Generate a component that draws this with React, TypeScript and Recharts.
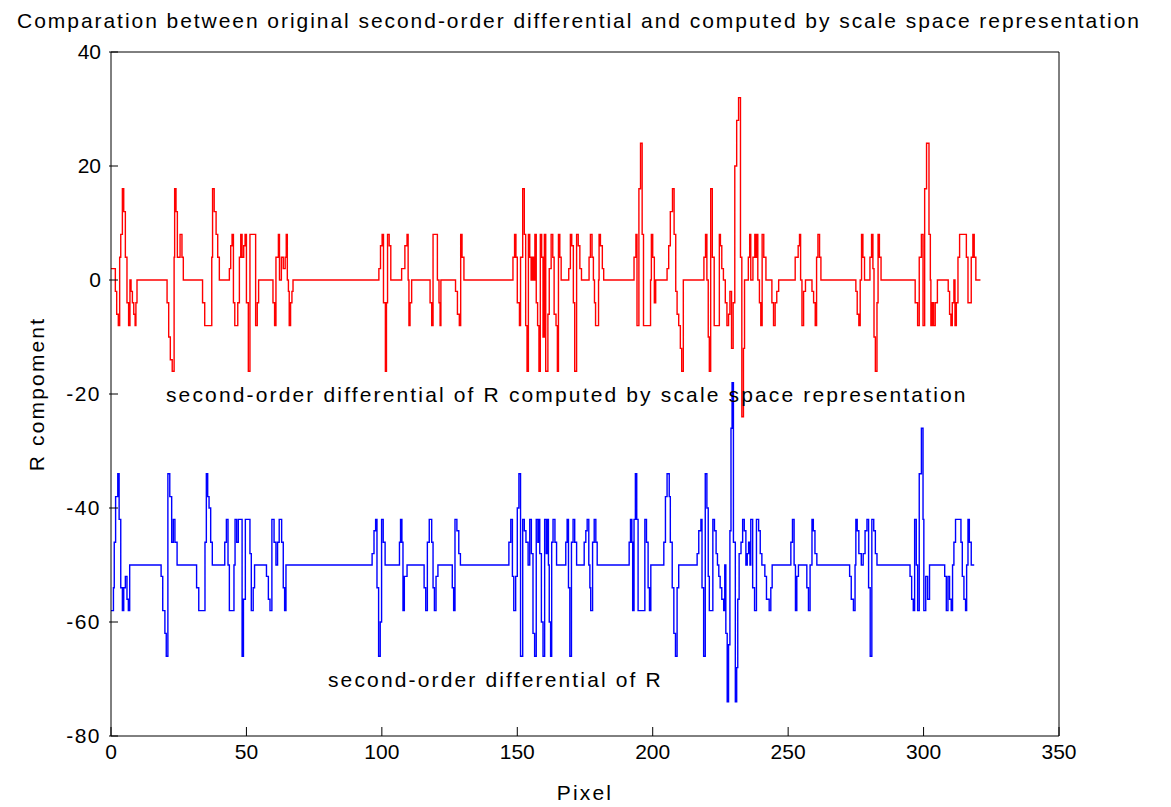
import React from 'react';
import { LineChart, Line, XAxis, YAxis, ReferenceDot, Label } from 'recharts';

const titleText = 'Comparation between original second-order differential and computed by scale space representation';
const xLabelText = 'Pixel';
const yLabelText = 'R compoment';
const redNote = 'second-order differential of R computed by scale space representation';
const blueNote = 'second-order differential of R';
const xTicks = [0, 50, 100, 150, 200, 250, 300, 350];
const yTicks = [-80, -60, -40, -20, 0, 20, 40];
const redNotePos = { x: 20.3, y: -20.2 };
const blueNotePos = { x: 80.1, y: -70.2 };

// breakpoints [pixel, value]; value holds until the next breakpoint
const redSteps: [number, number][] = [
  [0, 2], [1.6, -2], [2.1, -6], [2.7, -8], [3.2, 4], [3.6, 8], [4.2, 16], [4.7, 12], [5.3, 4], [5.9, -4], [6.5, -8], [7.0, 0], [7.4, -2], [7.9, -4], [8.4, -6], [8.9, -8], [9.2, -4], [9.6, 0],
  [20.7, -4], [21.3, -10], [21.9, -14], [22.6, -16], [23.3, 4], [23.5, 16], [24.0, 12], [24.5, 4], [25.5, 8], [26.2, 4], [26.7, 0],
  [33.8, -4], [34.6, -8], [37.2, 4], [37.5, 16], [38.1, 12], [38.8, 8], [39.4, 4], [40.0, 0],
  [43.7, 2], [44.2, 6], [44.7, 8], [45.2, -4], [45.7, -8], [46.8, -4], [47.4, 4], [47.9, 8], [48.4, 4], [49.0, 6], [49.5, 8], [50.0, -4], [50.7, -16], [51.3, 8],
  [53.4, -8], [54.0, -4], [54.5, 0],
  [59.8, -4], [60.4, -8], [60.9, 4], [61.8, 8], [62.2, 0], [62.9, 4], [63.6, 2], [64.3, 4], [64.7, 8], [65.1, 0], [65.5, -2], [65.8, -8], [66.3, -4], [66.8, -2], [67.2, 0],
  [98.9, 2], [99.5, 6], [100.1, 8], [100.6, -4], [101.3, -16], [101.7, -4], [102.1, 8], [102.7, 6], [103.3, 0],
  [107.3, 2], [108.5, 6], [109.3, 8], [109.7, 0], [110.0, -8], [110.4, -4], [111.0, 0],
  [117.8, -4], [118.4, -8], [118.9, 8], [120.5, 0], [121.1, -4], [121.5, -8], [121.8, 0],
  [127.2, -2], [127.9, -6], [128.6, -8], [129.1, 8], [129.6, 4], [130.3, 0],
  [148.4, 4], [149.0, 8], [149.5, 4], [150.0, -4], [150.8, -8], [151.2, 4], [152.0, 16], [152.6, 8], [153.1, -8], [153.6, -16], [154.1, 8], [154.6, 4], [155.1, 0], [155.5, 4], [156.0, 0], [156.5, 8], [157.0, -4], [157.5, -8], [158.0, -16], [158.5, 8], [159.0, 4], [159.5, -10], [160.0, 8],
  [160.5, -16], [161.3, -6], [161.8, 2], [162.5, 8], [163.1, 4], [163.6, -6], [164.3, -8], [164.8, -16], [165.2, 8], [165.7, 4], [166.2, 0],
  [169.0, 2], [169.6, 8], [170.1, 6], [170.7, -4], [171.2, -16], [171.9, 8], [172.5, 6], [173.1, 2], [173.7, 0],
  [176.5, 4], [177.0, 8], [177.6, 4], [178.1, 0], [178.5, -4], [178.9, -8], [180.0, 0], [180.2, 8], [180.7, 6], [181.4, 2], [181.9, 0],
  [193.1, 4], [193.8, 8], [194.2, -8], [194.9, 16], [195.5, 24], [196.1, 8], [196.6, -8], [199.2, 0], [199.5, 8], [200.0, 4], [200.6, -4], [201.1, 0],
  [205.3, 2], [205.9, 6], [206.5, 12], [207.3, 16], [207.9, 8], [208.5, -2], [209.0, -6], [209.6, -8], [210.2, -12], [210.7, -16], [211.3, 0],
  [218.9, 4], [219.5, 8], [220.0, 0], [220.5, -10], [220.9, -16], [221.4, 16], [222.0, 4], [222.7, -8], [224.6, 8], [225.0, 6], [225.5, 2], [226.1, 0], [226.8, -4], [227.4, -8], [228.0, -6], [228.5, -2], [229.1, -12], [229.7, -4], [230.3, 20], [231.0, 28], [231.7, 32], [232.4, 4], [232.9, -24], [233.5, -12], [233.9, 0],
  [235.3, 4], [235.8, 8], [236.2, 0], [237.0, 4], [237.7, 8], [238.2, 4], [238.5, 8], [238.8, 0], [239.4, -4], [239.9, -8], [240.4, 8], [241.0, 4], [241.8, 0],
  [244.0, -4], [244.6, -8], [245.2, -4], [245.8, -2], [246.5, 0],
  [252.6, 4], [253.7, 6], [254.2, 8], [254.6, 0], [255.1, -8], [255.7, -2], [256.4, 0],
  [258.8, -2], [259.4, -4], [260.0, -8], [260.5, 4], [261.0, 8], [261.6, 4], [262.1, 0],
  [275.0, -2], [275.5, -6], [276.1, -8], [276.6, 0], [277.1, 8], [277.6, 4], [278.2, 0],
  [280.2, 4], [280.8, 8], [281.3, 2], [281.7, -10], [282.2, -16], [282.8, -4], [283.2, 8], [283.7, 4], [284.3, 0],
  [296.9, -4], [297.8, -8], [298.4, 4], [299.2, 8], [299.8, -8], [300.4, 16], [301.1, 24], [302.0, 8], [302.5, 0], [302.7, -8], [303.2, -4], [303.7, -8], [304.3, -4], [305.1, 0],
  [309.1, -2], [309.6, -6], [310.1, -8], [310.6, -4], [311.2, 0], [311.6, -8], [312.1, -4], [312.7, 4], [313.3, 8], [315.8, 4], [316.4, -4], [317.2, -4], [317.6, 4], [318.2, 8], [318.7, 4], [319.3, 0], [321.0, 0],
];

const blueSteps: [number, number][] = [
  [0, -58], [0.9, -54], [1.2, -46], [1.7, -38], [2.5, -34], [3.0, -42], [3.6, -54], [4.2, -58], [4.7, -54], [5.3, -52], [5.9, -56], [6.4, -58], [6.9, -50],
  [18.5, -52], [19.1, -58], [19.9, -62], [20.4, -66], [21.0, -34], [21.7, -38], [22.4, -46], [23.0, -42], [23.6, -46], [24.4, -50],
  [31.6, -54], [32.4, -58], [34.7, -46], [35.2, -34], [35.7, -38], [36.2, -40], [36.8, -46], [37.4, -50],
  [42.0, -46], [42.6, -42], [43.2, -50], [43.7, -58], [45.4, -50], [45.8, -42], [46.4, -46], [47.0, -42], [48.4, -66], [48.9, -56], [49.6, -42], [51.3, -48], [51.8, -58], [52.5, -54], [53.0, -50],
  [57.4, -52], [58.1, -56], [58.7, -58], [59.4, -42], [60.2, -46], [60.9, -50], [61.5, -46], [62.1, -42], [63.0, -46], [63.6, -54], [64.1, -58], [64.6, -50],
  [96.4, -48], [97.1, -44], [97.7, -42], [98.2, -54], [98.8, -66], [99.4, -60], [99.9, -42], [100.5, -46], [101.2, -50],
  [106.5, -46], [106.9, -42], [107.4, -46], [107.8, -58], [108.3, -52], [109.3, -50],
  [115.6, -54], [116.2, -58], [116.8, -46], [117.5, -42], [118.4, -46], [118.9, -54], [119.4, -58], [120.0, -52], [120.7, -50],
  [126.0, -54], [126.5, -58], [127.0, -42], [127.7, -44], [128.4, -48], [129.0, -50],
  [146.9, -46], [147.6, -42], [148.2, -52], [148.7, -58], [149.4, -52], [150.0, -40], [150.6, -34], [151.2, -66], [152.0, -42], [152.6, -44], [153.2, -46], [154.0, -50], [154.6, -42], [155.2, -48], [155.8, -62], [156.4, -66], [157.0, -42], [157.6, -46], [158.0, -42], [158.3, -48], [158.9, -60], [159.5, -66], [160.1, -42], [160.7, -48],
  [161.1, -42], [161.5, -50], [161.8, -60], [162.3, -66], [162.7, -46], [163.2, -42], [163.9, -46], [164.5, -50],
  [167.9, -46], [168.4, -42], [168.9, -54], [169.4, -66], [170.0, -46], [170.6, -42], [171.2, -46], [171.9, -50],
  [174.7, -46], [175.3, -44], [175.8, -42], [176.4, -50], [176.8, -54], [177.1, -58], [177.8, -46], [178.4, -42], [179.0, -46], [179.5, -50],
  [191.3, -46], [191.8, -42], [192.3, -46], [192.6, -58], [193.1, -42], [193.6, -34], [194.1, -42], [194.6, -58], [197.1, -42], [197.7, -46], [198.3, -54], [198.8, -58], [199.3, -50],
  [204.1, -46], [204.7, -38], [205.3, -34], [206.1, -38], [206.5, -46], [207.2, -54], [207.8, -62], [208.4, -66], [209.0, -54], [209.6, -50],
  [216.4, -48], [217.0, -44], [217.8, -42], [218.2, -54], [218.8, -66], [219.4, -34], [220.0, -40], [220.5, -52], [220.9, -58], [222.2, -42], [222.8, -44], [223.4, -48], [223.9, -50], [224.4, -52], [224.9, -54], [225.5, -56], [226.2, -58], [226.6, -50], [227.0, -62], [227.5, -74], [228.0, -64], [228.5, -44], [228.9, -26], [229.3, -18], [229.8, -46], [230.5, -74], [231.0, -68], [231.4, -56], [231.9, -48], [232.6, -46], [233.2, -42], [233.8, -44], [234.4, -50], [234.9, -48], [235.4, -46], [235.9, -50], [236.2, -42], [236.9, -54], [237.6, -58], [238.3, -42], [239.1, -44], [239.7, -48], [240.3, -50], [241.4, -52], [242.0, -56], [243.0, -58], [243.6, -54], [244.1, -50],
  [251.0, -46], [251.6, -42], [252.2, -50], [252.7, -58], [253.2, -52], [253.8, -50],
  [256.9, -54], [257.5, -58], [258.1, -50], [258.8, -42], [259.3, -44], [259.9, -48], [260.6, -50],
  [272.7, -52], [273.3, -56], [274.1, -58], [274.7, -50], [275.0, -42], [275.5, -44], [276.1, -48], [277.0, -50], [277.7, -48], [278.4, -44], [279.1, -42], [279.7, -54], [280.3, -66], [280.9, -42], [281.6, -44], [282.2, -48], [282.8, -50],
  [295.0, -52], [295.6, -56], [296.2, -58], [296.7, -42], [297.3, -50], [297.8, -58], [298.4, -34], [299.2, -26], [299.8, -42], [300.1, -58], [300.8, -52], [301.5, -56], [302.2, -50],
  [307.8, -52], [308.4, -58], [309.0, -52], [309.6, -56], [310.2, -58], [310.7, -50], [311.2, -46], [311.8, -42], [313.8, -46], [314.3, -52], [314.9, -56], [315.5, -58], [315.9, -50], [316.4, -42], [316.9, -46], [317.6, -50], [318.7, -50],
];

const redData = redSteps.map(([x, y]) => ({ x, y }));
const blueData = blueSteps.map(([x, y]) => ({ x, y }));

const FONT = '"Liberation Sans", Arial, sans-serif';
const FS = 21;
const LS = 2.15;
const TITLE_LS = 1.95;
const TICK_LEN = 9;
const MARGIN_T = 8;

const BottomTick = (props: any) => {
  const { x, y, payload } = props;
  const axisY = y - MARGIN_T;
  return (
    <g>
      <line x1={x} x2={x} y1={axisY} y2={axisY - TICK_LEN} stroke="#000" strokeWidth={1} />
      <text x={x} y={y} dy="0.72em" textAnchor="middle" fontFamily={FONT} fontSize={FS} fill="#000">{payload.value}</text>
    </g>
  );
};
const LeftTick = (props: any) => {
  const { x, y, payload } = props;
  const axisX = x + MARGIN_T;
  const v = payload.value;
  return (
    <g>
      <line x1={axisX} x2={axisX + TICK_LEN} y1={y} y2={y} stroke="#000" strokeWidth={1} />
      <text x={x} y={y} dy="0.35em" textAnchor="end" fontFamily={FONT} fontSize={FS} fill="#000" letterSpacing={v < 0 ? 1.5 : 0}>{v}</text>
    </g>
  );
};
const RightTick = (props: any) => {
  const { x, y } = props;
  const axisX = x - MARGIN_T;
  return <line x1={axisX} x2={axisX - TICK_LEN} y1={y} y2={y} stroke="#000" strokeWidth={1} />;
};
const TopTick = (props: any) => {
  const { x, y } = props;
  const axisY = y + MARGIN_T;
  return <line x1={x} x2={x} y1={axisY} y2={axisY + TICK_LEN} stroke="#000" strokeWidth={1} />;
};

const noteLabel = (text: string) => (props: any) => {
  const vb = props.viewBox || {};
  const cx = (vb.x ?? 0) + (vb.width ?? 0) / 2;
  const cy = (vb.y ?? 0) + (vb.height ?? 0) / 2;
  return (
    <text x={cx} y={cy} dy="0.35em" textAnchor="start" fontFamily={FONT} fontSize={FS} letterSpacing={LS} fill="#000">{text}</text>
  );
};

export default function App() {
  return (
    <div style={{ width: 1155, height: 799, background: '#fff' }}>
      <LineChart width={1155} height={799} margin={{ top: 34, left: 43, right: 94, bottom: 31 }}>
        <XAxis
          xAxisId="b"
          type="number"
          dataKey="x"
          domain={[0, 350]}
          ticks={xTicks}
          orientation="bottom"
          height={40}
          tickSize={0}
          tickMargin={MARGIN_T}
          tick={<BottomTick />}
          axisLine={{ stroke: '#000' }}
          allowDataOverflow
        >
          <Label
            content={(p: any) => {
              const vb = p.viewBox;
              return (
                <text x={vb.x + vb.width / 2} y={vb.y + 57} dy="0.35em" textAnchor="middle" fontFamily={FONT} fontSize={FS} letterSpacing={LS} fill="#000">{xLabelText}</text>
              );
            }}
          />
        </XAxis>
        <XAxis
          xAxisId="t"
          type="number"
          dataKey="x"
          domain={[0, 350]}
          ticks={xTicks}
          orientation="top"
          height={10}
          tickSize={0}
          tickMargin={MARGIN_T}
          tick={<TopTick />}
          axisLine={{ stroke: '#000' }}
        >
          <Label
            content={(p: any) => {
              const vb = p.viewBox;
              return (
                <text x={vb.x + vb.width / 2 - 6} y={vb.y - 21} dy="0.35em" textAnchor="middle" fontFamily={FONT} fontSize={FS} letterSpacing={TITLE_LS} fill="#000">{titleText}</text>
              );
            }}
          />
        </XAxis>
        <YAxis
          yAxisId="l"
          type="number"
          domain={[-80, 40]}
          ticks={yTicks}
          orientation="left"
          width={60}
          tickSize={0}
          tickMargin={MARGIN_T + 2}
          tick={<LeftTick />}
          axisLine={{ stroke: '#000' }}
          allowDataOverflow
        >
          <Label
            content={(p: any) => {
              const vb = p.viewBox;
              const cx = vb.x - 14;
              const cy = vb.y + vb.height / 2;
              return (
                <text x={cx} y={cy} transform={`rotate(-90 ${cx} ${cy})`} textAnchor="middle" dy="0.35em" fontFamily={FONT} fontSize={FS} letterSpacing={LS} fill="#000">{yLabelText}</text>
              );
            }}
          />
        </YAxis>
        <YAxis
          yAxisId="r"
          type="number"
          domain={[-80, 40]}
          ticks={yTicks}
          orientation="right"
          width={10}
          tickSize={0}
          tickMargin={MARGIN_T}
          tick={<RightTick />}
          axisLine={{ stroke: '#000' }}
        />
        <Line
          xAxisId="b"
          yAxisId="l"
          data={redData}
          dataKey="y"
          type="stepAfter"
          stroke="#ff0000"
          strokeWidth={1.4}
          dot={false}
          activeDot={false}
          isAnimationActive={false}
        />
        <Line
          xAxisId="b"
          yAxisId="l"
          data={blueData}
          dataKey="y"
          type="stepAfter"
          stroke="#0000ff"
          strokeWidth={1.4}
          dot={false}
          activeDot={false}
          isAnimationActive={false}
        />
        <ReferenceDot xAxisId="b" yAxisId="l" x={redNotePos.x} y={redNotePos.y} r={1} fill="none" stroke="none" label={noteLabel(redNote)} />
        <ReferenceDot xAxisId="b" yAxisId="l" x={blueNotePos.x} y={blueNotePos.y} r={1} fill="none" stroke="none" label={noteLabel(blueNote)} />
      </LineChart>
    </div>
  );
}
